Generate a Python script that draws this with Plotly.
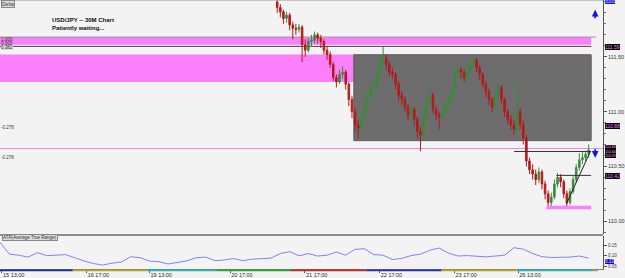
import plotly.graph_objects as go

# ---------------- data ----------------
bars = list(range(89, 190))  # hourly bar index of visible candles
opens = [112.00, 111.95, 111.91, 111.85, 111.88, 111.79, 111.76, 111.75, 111.77, 111.61,
         111.56, 111.64, 111.65, 111.70, 111.67, 111.64, 111.56, 111.52, 111.43, 111.31,
         111.27, 111.34, 111.36, 111.25, 111.11, 111.00, 110.88, 110.85, 110.95, 111.06,
         111.15, 111.22, 111.25, 111.34, 111.45, 111.49, 111.43, 111.36, 111.34, 111.25,
         111.15, 111.11, 111.04, 110.97, 111.02, 110.93, 110.82, 110.79, 110.95, 111.11,
         111.15, 111.02, 110.97, 110.95, 111.00, 111.06, 111.11, 111.18, 111.34, 111.38,
         111.36, 111.31, 111.38, 111.45, 111.47, 111.40, 111.34, 111.25, 111.18, 111.11,
         111.04, 111.15, 111.22, 111.11, 111.00, 110.93, 110.88, 110.84, 111.00, 110.88,
         110.76, 110.55, 110.47, 110.43, 110.38, 110.45, 110.34, 110.25, 110.17, 110.22,
         110.34, 110.40, 110.36, 110.25, 110.17, 110.27, 110.38, 110.49, 110.56, 110.58,
         110.61]
closes = [111.95, 111.91, 111.85, 111.88, 111.79, 111.76, 111.75, 111.77, 111.61, 111.56,
          111.64, 111.65, 111.70, 111.67, 111.64, 111.56, 111.52, 111.43, 111.31, 111.27,
          111.34, 111.36, 111.25, 111.11, 111.00, 110.88, 110.85, 110.95, 111.06, 111.15,
          111.22, 111.25, 111.34, 111.45, 111.49, 111.43, 111.36, 111.34, 111.25, 111.15,
          111.11, 111.04, 110.97, 111.02, 110.93, 110.82, 110.79, 110.95, 111.11, 111.15,
          111.02, 110.97, 110.95, 111.00, 111.06, 111.11, 111.18, 111.34, 111.38, 111.36,
          111.31, 111.38, 111.45, 111.47, 111.40, 111.34, 111.25, 111.18, 111.11, 111.04,
          111.15, 111.22, 111.11, 111.00, 110.93, 110.88, 110.84, 111.00, 110.88, 110.76,
          110.55, 110.47, 110.43, 110.38, 110.45, 110.34, 110.25, 110.17, 110.22, 110.34,
          110.40, 110.36, 110.25, 110.17, 110.27, 110.38, 110.49, 110.56, 110.58, 110.61,
          110.65]
highs = [112.06, 111.98, 111.93, 111.91, 111.90, 111.82, 111.80, 111.80, 111.79, 111.66,
         111.67, 111.70, 111.73, 111.72, 111.70, 111.66, 111.60, 111.55, 111.45, 111.34,
         111.38, 111.41, 111.38, 111.27, 111.14, 111.03, 110.92, 110.98, 111.09, 111.18,
         111.25, 111.29, 111.38, 111.52, 111.59, 111.52, 111.46, 111.40, 111.36, 111.28,
         111.19, 111.14, 111.07, 111.06, 111.04, 110.96, 110.86, 110.98, 111.14, 111.20,
         111.17, 111.05, 111.00, 111.04, 111.09, 111.15, 111.22, 111.37, 111.43, 111.41,
         111.39, 111.42, 111.48, 111.51, 111.49, 111.42, 111.36, 111.28, 111.21, 111.13,
         111.19, 111.26, 111.24, 111.13, 111.03, 110.97, 110.92, 111.26, 111.03, 110.92,
         110.79, 110.58, 110.52, 110.47, 110.49, 110.47, 110.37, 110.28, 110.26, 110.38,
         110.44, 110.43, 110.38, 110.28, 110.30, 110.41, 110.52, 110.62, 110.63, 110.64,
         110.70]
lows = [111.90, 111.86, 111.80, 111.81, 111.74, 111.66, 111.70, 111.72, 111.45, 111.50,
        111.54, 111.60, 111.62, 111.62, 111.58, 111.52, 111.47, 111.40, 111.28, 111.22,
        111.25, 111.30, 111.20, 111.05, 110.94, 110.82, 110.76, 110.80, 110.92, 111.02,
        111.12, 111.18, 111.22, 111.32, 111.42, 111.38, 111.32, 111.30, 111.20, 111.10,
        111.06, 111.00, 110.92, 110.95, 110.87, 110.76, 110.64, 110.77, 110.93, 111.08,
        110.98, 110.92, 110.84, 110.92, 110.97, 111.03, 111.08, 111.16, 111.31, 111.30,
        111.27, 111.28, 111.35, 111.41, 111.36, 111.29, 111.21, 111.13, 111.06, 110.99,
        111.02, 111.12, 111.07, 110.95, 110.88, 110.83, 110.79, 110.82, 110.84, 110.70,
        110.50, 110.43, 110.38, 110.33, 110.35, 110.29, 110.20, 110.14, 110.14, 110.20,
        110.31, 110.31, 110.21, 110.14, 110.15, 110.25, 110.35, 110.46, 110.52, 110.55,
        110.58]

atr_bars = list(range(0, 190, 3))
atr = [0.164, 0.107, 0.102, 0.093, 0.114, 0.100, 0.102, 0.105, 0.090, 0.074,
       0.062, 0.055, 0.064, 0.070, 0.095, 0.090, 0.074, 0.071, 0.060, 0.068,
       0.075, 0.090, 0.093, 0.076, 0.079, 0.086, 0.076, 0.083, 0.086, 0.088,
       0.110, 0.119, 0.099, 0.110, 0.098, 0.102, 0.117, 0.102, 0.130, 0.133,
       0.105, 0.102, 0.081, 0.087, 0.100, 0.107, 0.126, 0.136, 0.112, 0.098,
       0.100, 0.096, 0.094, 0.098, 0.102, 0.138, 0.131, 0.110, 0.095, 0.091,
       0.091, 0.093, 0.098, 0.088]

time_ticks = [0.64, 27.84, 48.0, 73.92, 97.92, 121.92, 145.92, 166.4]
time_labels = ["15 13:00", "16 17:00", "19 13:00", "20 17:00", "21 17:00",
               "22 17:00", "23 17:00", "26 13:00"]
price_ticks = [110.0, 110.5, 111.0, 111.5]
price_labels = ["110.00", "110.50", "111.00", "111.50"]
atr_ticks = [0.05, 0.10, 0.15]
atr_labels = ["0.05", "0.10", "0.15"]

# zone levels
upper_zone = (111.61, 111.68)
lower_zone = (111.27, 111.52)
range_box = (110.735, 111.518)
pink_level = 110.663
support_zone = (110.11, 110.14)

# --------------- figure ----------------
XMAX = 193.6
BG = "#f3f3f3"
fig = go.Figure()

fig.add_trace(go.Candlestick(
    x=bars, open=opens, high=highs, low=lows, close=closes,
    xaxis="x", yaxis="y", whiskerwidth=0, showlegend=False, hoverinfo="skip",
    increasing=dict(line=dict(color="#3c8a3c", width=1), fillcolor="#3c8a3c"),
    decreasing=dict(line=dict(color="#b51a1a", width=1), fillcolor="#b51a1a"),
))
fig.add_trace(go.Scatter(
    x=atr_bars, y=atr, xaxis="x2", yaxis="y2", mode="lines",
    line=dict(color="#8080ff", width=1), showlegend=False, hoverinfo="skip"))

shapes = []
def rect(x0, x1, y0, y1, fill, line=None, lw=0):
    shapes.append(dict(type="rect", xref="x", yref="y", x0=x0, x1=x1, y0=y0, y1=y1,
                       fillcolor=fill, line=dict(color=line or fill, width=lw), layer="below"))
def hline(x0, x1, y, color, w=1, layer="below"):
    shapes.append(dict(type="line", xref="x", yref="y", x0=x0, x1=x1, y0=y, y1=y,
                       line=dict(color=color, width=w), layer=layer))

rect(0, 189.8, upper_zone[0], upper_zone[1], "#fb7efb")
rect(0, 189.8, lower_zone[0], lower_zone[1], "#fb7efb")
hline(0, 191.4, upper_zone[1], "#9a9a9a")
hline(0, 189.8, 111.595, "#404040")
rect(113.6, 189.8, range_box[0], range_box[1], "#6d6d6d", "#5c5c5c", 1)
hline(0, XMAX, pink_level, "#ee8aee")
hline(165.1, 189.8, 110.636, "#333333", 1, "above")
hline(178.6, 189.8, 110.418, "#333333", 1, "above")
rect(175.4, 189.8, support_zone[0], support_zone[1], "#fb7efb")
shapes.append(dict(type="line", xref="x", yref="y", x0=181.8, y0=110.155, x1=189.6, y1=110.64,
                   line=dict(color="#222222", width=1), layer="above"))

# panel separators / borders
shapes.append(dict(type="line", xref="paper", yref="paper", x0=0, x1=1, y0=1, y1=1,
                   line=dict(color="#999999", width=1)))
shapes.append(dict(type="line", xref="paper", yref="paper", x0=0, x1=1, y0=0.126, y1=0.126,
                   line=dict(color="#8c8c8c", width=2)))

# session color bar under time axis
seg_px = [0, 73, 148, 217, 292, 368, 443, 519, 594, 600]
seg_col = ["#1d2a9e", "#b3a62a", "#2fb3b3", "#2ea52e", "#c82828", "#2a2ac8",
           "#b3a62a", "#2fb3b3", "#9a9a9a"]
for i, col in enumerate(seg_col):
    shapes.append(dict(type="rect", xref="paper", yref="paper",
                       x0=seg_px[i] / 605, x1=seg_px[i + 1] / 605, y0=-0.0085, y1=-0.002,
                       fillcolor=col, line=dict(width=0)))

ann = []
def lab(x, y, text, size=5.5, color="#333", bold=False, xanchor="left", yanchor="middle",
        bg=None, border=None, xref="paper", yref="y"):
    ann.append(dict(x=x, y=y, xref=xref, yref=yref, text=("<b>%s</b>" % text) if bold else text,
                    showarrow=False, xanchor=xanchor, yanchor=yanchor,
                    font=dict(size=size, color=color, family="Liberation Sans"),
                    bgcolor=bg, bordercolor=border, borderwidth=1 if border else 0, borderpad=0))

lab(0.002, 0.999, "Delta", 5, "#333", yref="paper", yanchor="top", bg="#dcdcdc", border="#888")
lab(52 / 605, 0.926, "USD/JPY -- 30M Chart", 6, "#111", True, yref="paper")
lab(52 / 605, 0.896, "Patiently waiting...", 6, "#111", True, yref="paper")
lab(0.002, 111.655, "1.000", 4.5, "#333")
lab(0.002, 111.617, "0.000", 4.5, "#333")
lab(0.002, 111.585, "0.382", 4.5, "#333", bg="#d8d8d8")
lab(0.002, 110.854, "-0.278", 4.5, "#333")
lab(0.002, 110.582, "-0.278", 4.5, "#333")
lab(0.003, 0.117, "ATR(Average True Range)", 4.5, "#333", yref="paper",
    bg="#dcdcdc", border="#888")

# blue arrows (drawn as annotation arrows)
for tip, tail_dy in ((111.93, 10), (110.58, -10)):
    ann.append(dict(x=0.987, y=tip, xref="paper", yref="y", ax=0, ay=tail_dy,
                    showarrow=True, arrowhead=2, arrowsize=0.75, arrowwidth=1.8,
                    arrowcolor="#1414e6", text=""))

# right axis price boxes
lab(1.004, 0.999, "112.02", 3.5, "#ffffff", bg="#1a1acc", yref="paper", yanchor="top")
lab(1.004, 111.59, "111.59", 5, "#ff80ff", bg="#000000")
lab(1.004, 110.873, "110.88", 5, "#ff80ff", bg="#000000")
lab(1.004, 110.64, "110.68<br>110.64<br>110.59", 3.6, "#ffb0ff", bg="#000000")
lab(1.004, 110.41, "110.42", 5, "#ff80ff", bg="#000000")
lab(1.004, 0.074, "0.13", 4.5, "#ffffff", bg="#0000ff", yref="y2")

axis_font = dict(size=5.5, color="#333", family="Liberation Sans")
fig.update_layout(
    width=625, height=278, margin=dict(l=0, r=20, t=0, b=8),
    paper_bgcolor=BG, plot_bgcolor=BG, showlegend=False,
    shapes=shapes, annotations=ann,
    xaxis=dict(domain=[0, 1], range=[0, XMAX], anchor="y", showticklabels=False,
               showgrid=False, zeroline=False, rangeslider=dict(visible=False), ticks=""),
    xaxis2=dict(domain=[0, 1], range=[0, XMAX], anchor="y2", matches="x",
                tickvals=time_ticks, ticktext=time_labels, ticklabelposition="outside right",
                ticks="outside", ticklen=3, tickcolor="#555", tickfont=axis_font,
                showgrid=False, zeroline=False, showline=True, linecolor="#777"),
    yaxis=dict(domain=[0.1296, 1], range=[109.882, 112.018], side="right", anchor="x",
               tickvals=price_ticks, ticktext=price_labels, tickfont=axis_font,
               ticks="outside", ticklen=3, tickcolor="#555",
               minor=dict(ticks="outside", ticklen=2, dtick=0.1, tickcolor="#777"),
               showgrid=False, zeroline=False, showline=True, linecolor="#555"),
    yaxis2=dict(domain=[0, 0.122], range=[0.036, 0.193], side="right", anchor="x2",
                tickvals=atr_ticks, ticktext=atr_labels,
                tickfont=dict(size=4.5, color="#333", family="Liberation Sans"),
                ticks="outside", ticklen=3, tickcolor="#555",
                showgrid=False, zeroline=False, showline=True, linecolor="#555"),
)

fig.write_html("out.html")
